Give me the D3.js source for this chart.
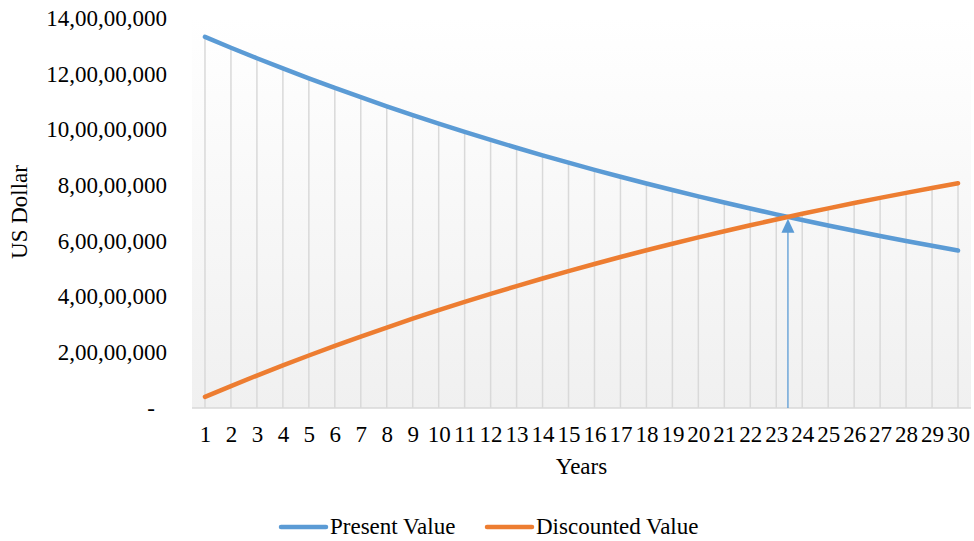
<!DOCTYPE html>
<html>
<head>
<meta charset="utf-8">
<script src="https://cdn.jsdelivr.net/npm/d3@7"></script>
<style>
  html, body { margin: 0; padding: 0; background: #fff; }
  svg { display: block; font-family: "Liberation Serif", "Times New Roman", serif; }
</style>
</head>
<body>
<svg id="chart" width="974" height="541"></svg>
<script>
// ---- data ----
const years = [1,2,3,4,5,6,7,8,9,10,11,12,13,14,15,16,17,18,19,20,21,22,23,24,25,26,27,28,29,30];
const presentValue = [133200000,129320000,125560000,121900000,118350000,114900000,111560000,108310000,105150000,102090000,
  99120000,96230000,93430000,90710000,88060000,85500000,83010000,80590000,78240000,75960000,
  73750000,71600000,69520000,67490000,65530000,63620000,61770000,59970000,58220000,56520000];
const discountedValue = [4000000,7880000,11640000,15300000,18850000,22300000,25640000,28890000,32050000,35110000,
  38080000,40970000,43770000,46490000,49140000,51700000,54190000,56610000,58960000,61240000,
  63450000,65600000,67680000,69710000,71670000,73580000,75430000,77230000,78980000,80680000];
const yTickValues = [0,20000000,40000000,60000000,80000000,100000000,120000000,140000000];
const yTickLabels = ["-","2,00,00,000","4,00,00,000","6,00,00,000","8,00,00,000","10,00,00,000","12,00,00,000","14,00,00,000"];
const seriesNames = ["Present Value","Discounted Value"];
const seriesColors = ["#5b9bd5","#ed7d31"];
const arrowYear = [23.45];
const arrowTop = [67900000];

// ---- layout ----
const FS = 23;
const svg = d3.select("#chart");
const pLeft = 192, pRight = 971, pTop = 18, pBottom = 408;
const x = d3.scaleLinear().domain([0.5, 30.5]).range([pLeft, pRight]);
const y = d3.scaleLinear().domain([0, 140000000]).range([pBottom, pTop]);

const defs = svg.append("defs");
const grad = defs.append("linearGradient").attr("id","bg").attr("x1",0).attr("y1",0).attr("x2",0).attr("y2",1);
grad.append("stop").attr("offset","0%").attr("stop-color","#ffffff");
grad.append("stop").attr("offset","100%").attr("stop-color","#f0f0f0");

svg.append("rect").attr("x",pLeft).attr("y",pTop).attr("width",pRight-pLeft).attr("height",pBottom-pTop)
  .attr("fill","url(#bg)");

// drop lines
svg.append("g").selectAll("line").data(years).join("line")
  .attr("x1", d => x(d)).attr("x2", d => x(d))
  .attr("y1", (d,i) => y(Math.max(presentValue[i], discountedValue[i])))
  .attr("y2", y(0))
  .attr("stroke","#d9d9d9").attr("stroke-width",1.5);

// x axis line
svg.append("line").attr("x1",pLeft).attr("x2",pRight).attr("y1",pBottom).attr("y2",pBottom)
  .attr("stroke","#d9d9d9").attr("stroke-width",1.5);

// x axis labels
const xAxis = d3.axisBottom(x).tickValues(years).tickSize(0).tickPadding(0).tickFormat(d3.format("d"));
const gx = svg.append("g").attr("transform",`translate(0,${pBottom})`).call(xAxis);
gx.select(".domain").remove();
gx.attr("font-family","Liberation Serif").attr("font-size",FS);
gx.selectAll("text").attr("fill","#000").attr("y",27).attr("dy","0.32em");

// y axis labels
const yAxis = d3.axisLeft(y).tickValues(yTickValues).tickSize(0).tickPadding(0)
  .tickFormat((d,i) => yTickLabels[i]);
const gy = svg.append("g").attr("transform",`translate(167,0)`).call(yAxis);
gy.select(".domain").remove();
gy.attr("font-family","Liberation Serif").attr("font-size",FS);
gy.selectAll("text").attr("fill","#000")
  .attr("x",(d) => d === 0 ? -12 : 0).attr("dy","0.32em");

// series lines
const series = [presentValue, discountedValue];
const line = d3.line().x((d,i) => x(years[i])).y(d => y(d));
series.forEach((s, k) => {
  svg.append("path").datum(s).attr("d", line).attr("fill","none")
    .attr("stroke", seriesColors[k]).attr("stroke-width",4.5).attr("stroke-linecap","round")
    .attr("stroke-linejoin","round");
});

// arrow
arrowYear.forEach((a, i) => {
  const ax = x(a), tipY = y(arrowTop[i]);
  svg.append("line").attr("x1",ax).attr("x2",ax).attr("y1",y(0)).attr("y2",tipY+10)
    .attr("stroke","#5b9bd5").attr("stroke-width",1.3);
  svg.append("path").attr("d",`M${ax},${tipY} L${ax-6.5},${tipY+14} L${ax+6.5},${tipY+14} Z`)
    .attr("fill","#5b9bd5");
});

// axis titles
svg.append("text").attr("x", (pLeft+pRight)/2).attr("y",467).attr("dy","0.32em")
  .attr("text-anchor","middle").attr("font-size",FS).text("Years");
svg.append("text").attr("transform","translate(20,212) rotate(-90)").attr("dy","0.32em")
  .attr("text-anchor","middle").attr("font-size",FS).text("US Dollar");

// legend
const legendX = [281, 487];
seriesNames.forEach((n, k) => {
  const g = svg.append("g").attr("transform",`translate(${legendX[k]},527)`);
  g.append("line").attr("x1",0).attr("x2",45).attr("y1",0).attr("y2",0)
    .attr("stroke",seriesColors[k]).attr("stroke-width",4.5).attr("stroke-linecap","round");
  g.append("text").attr("x",49).attr("dy","0.32em").attr("font-size",FS).text(n);
});
</script>
</body>
</html>
